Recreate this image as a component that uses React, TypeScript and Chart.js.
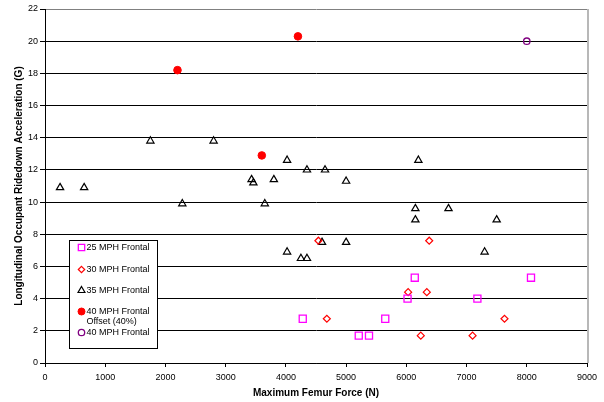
import React, { useEffect, useRef } from 'react';
import { Chart, registerables } from 'chart.js';

Chart.register(...registerables);

const FONT = "'Liberation Sans', Arial, Helvetica, sans-serif";

// ---- Data ----
const seriesLabels = [
  '25 MPH Frontal',
  '30 MPH Frontal',
  '35 MPH Frontal',
  '40 MPH Frontal\nOffset (40%)',
  '40 MPH Frontal',
];

const force25 = [4280, 6140, 8070, 6020, 7180, 5650, 5210, 5380];
const accel25 = [2.75, 5.3, 5.3, 4.0, 4.0, 2.75, 1.7, 1.7];

const force30 = [4540, 4680, 6380, 6030, 6340, 7630, 6240, 7100];
const accel30 = [7.6, 2.75, 7.6, 4.4, 4.4, 2.75, 1.7, 1.7];

const force35 = [250, 650, 1750, 2800, 3430, 3460, 3800, 4020, 4350, 4650, 5000, 6200, 2280, 3650, 4020, 4250, 4350, 4600, 6150, 6700, 6150, 7500, 5000, 7300];
const accel35 = [10.9, 10.9, 13.8, 13.8, 11.4, 11.2, 11.4, 12.6, 12.0, 12.0, 11.3, 12.6, 9.9, 9.9, 6.9, 6.5, 6.5, 7.5, 9.6, 9.6, 8.9, 8.9, 7.5, 6.9];

const force40off = [2200, 4200, 3600];
const accel40off = [18.2, 20.3, 12.9];

const force40 = [8000];
const accel40 = [20.0];

const xMin = 0, xMax = 9000, xStep = 1000;
const yMin = 0, yMax = 22, yStep = 2;

const xTitle = 'Maximum Femur Force (N)';
const yTitle = 'Longitudinal Occupant Ridedown Acceleration (G)';

const toPts = (xs: number[], ys: number[]) => xs.map((x, i) => ({ x, y: ys[i] }));

function drawMarker(ctx: CanvasRenderingContext2D, style: string, x: number, y: number, r: number, fill: string, stroke: string, lw: number) {
  ctx.save();
  ctx.beginPath();
  if (style === 'rect') {
    const s = r * Math.SQRT1_2;
    ctx.rect(x - s, y - s, 2 * s, 2 * s);
  } else if (style === 'rectRot') {
    ctx.moveTo(x, y - r); ctx.lineTo(x + r, y); ctx.lineTo(x, y + r); ctx.lineTo(x - r, y); ctx.closePath();
  } else if (style === 'triangle') {
    ctx.moveTo(x, y - r); ctx.lineTo(x + r * 0.866, y + r / 2); ctx.lineTo(x - r * 0.866, y + r / 2); ctx.closePath();
  } else {
    ctx.arc(x, y, r, 0, Math.PI * 2);
  }
  if (fill && fill !== 'transparent') { ctx.fillStyle = fill; ctx.fill(); }
  if (stroke && lw > 0) { ctx.strokeStyle = stroke; ctx.lineWidth = lw; ctx.stroke(); }
  ctx.restore();
}

const boxLegendPlugin = {
  id: 'boxLegend',
  afterDraw(chart: any) {
    const { ctx, chartArea } = chart;
    // right border of plot area
    ctx.save();
    ctx.strokeStyle = '#b8b8b8';
    ctx.lineWidth = 2;
    ctx.beginPath();
    ctx.moveTo(chartArea.right + 1, chartArea.top);
    ctx.lineTo(chartArea.right + 1, chartArea.bottom);
    ctx.stroke();
    ctx.restore();

    const bx = Math.round(chartArea.left + 24) + 0.5;
    const by = Math.round(chartArea.top + 231) + 0.5;
    const bw = 88, bh = 108;
    ctx.save();
    ctx.fillStyle = '#ffffff';
    ctx.fillRect(bx, by, bw, bh);
    ctx.strokeStyle = '#000';
    ctx.lineWidth = 1;
    ctx.strokeRect(bx, by, bw, bh);
    const rows = [7, 29, 50, 71, 92];
    ctx.font = `9px ${FONT}`;
    ctx.textBaseline = 'middle';
    ctx.textAlign = 'left';
    ctx.fillStyle = '#000';
    chart.data.datasets.forEach((ds: any, i: number) => {
      const yy = by + rows[i];
      drawMarker(ctx, ds.pointStyle, bx + 12, yy, ds.legendRadius, ds.backgroundColor, ds.borderColor, ds.borderWidth);
      const lines = String(ds.label).split('\n');
      lines.forEach((ln: string, k: number) => {
        ctx.fillStyle = '#000';
        ctx.fillText(ln, bx + 17, yy + k * 10);
      });
    });
    ctx.restore();
  },
};

export default function App() {
  const ref = useRef<HTMLCanvasElement | null>(null);

  useEffect(() => {
    document.body.style.margin = '0';
    const canvas = ref.current;
    if (!canvas) return;
    const chart = new Chart(canvas, {
      type: 'scatter',
      data: {
        datasets: [
          {
            label: seriesLabels[0], data: toPts(force25, accel25), pointStyle: 'rect',
            pointRadius: 5, borderColor: '#ff00ff', backgroundColor: 'transparent', borderWidth: 1.3, legendRadius: 4.5,
          } as any,
          {
            label: seriesLabels[1], data: toPts(force30, accel30), pointStyle: 'rectRot',
            pointRadius: 3.5, borderColor: '#ff0000', backgroundColor: 'transparent', borderWidth: 1.2, legendRadius: 3.2,
          } as any,
          {
            label: seriesLabels[2], data: toPts(force35, accel35), pointStyle: 'triangle',
            pointRadius: 4.2, borderColor: '#000000', backgroundColor: 'transparent', borderWidth: 1.2, legendRadius: 4,
          } as any,
          {
            label: seriesLabels[3], data: toPts(force40off, accel40off), pointStyle: 'circle',
            pointRadius: 3.8, borderColor: '#ff0000', backgroundColor: '#ff0000', borderWidth: 1, legendRadius: 3.5,
          } as any,
          {
            label: seriesLabels[4], data: toPts(force40, accel40), pointStyle: 'circle',
            pointRadius: 3.2, borderColor: '#800080', backgroundColor: 'transparent', borderWidth: 1.3, legendRadius: 3.2,
          } as any,
        ],
      },
      options: {
        responsive: false,
        animation: false,
        layout: { padding: { top: 9, right: 17, left: 0, bottom: 0 } },
        plugins: {
          legend: { display: false },
          tooltip: { enabled: false },
        },
        scales: {
          x: {
            type: 'linear',
            min: xMin, max: xMax,
            afterFit: (s: any) => { s.height = 39; },
            ticks: { stepSize: xStep, color: '#000', font: { family: FONT, size: 9 }, padding: 5, maxRotation: 0, callback: (v: any) => String(v) },
            grid: { drawOnChartArea: false, drawTicks: true, tickLength: 4, tickColor: '#000' },
            border: { color: '#000', width: 1 },
            title: { display: true, text: xTitle, color: '#000', font: { family: FONT, size: 10, weight: 'bold' }, padding: { top: 0, bottom: 3 } },
          },
          y: {
            type: 'linear',
            min: yMin, max: yMax,
            afterFit: (s: any) => { s.width = 45; },
            ticks: { stepSize: yStep, color: '#000', font: { family: FONT, size: 9 }, padding: 2, callback: (v: any) => String(v) },
            grid: {
              color: (c: any) => (c.tick && c.tick.value === yMax ? '#808080' : '#000'),
              tickColor: '#000',
              drawTicks: true, tickLength: 5, lineWidth: 1,
            },
            border: { color: '#000', width: 1 },
            title: { display: true, text: yTitle, color: '#000', font: { family: FONT, size: 10, weight: 'bold' }, padding: { top: 13, bottom: 0 } },
          },
        },
      } as any,
      plugins: [boxLegendPlugin],
    });
    return () => chart.destroy();
  }, []);

  return (
    <div style={{ width: 604, height: 402, background: '#fff' }}>
      <canvas ref={ref} width={604} height={402} style={{ display: 'block' }} />
    </div>
  );
}
